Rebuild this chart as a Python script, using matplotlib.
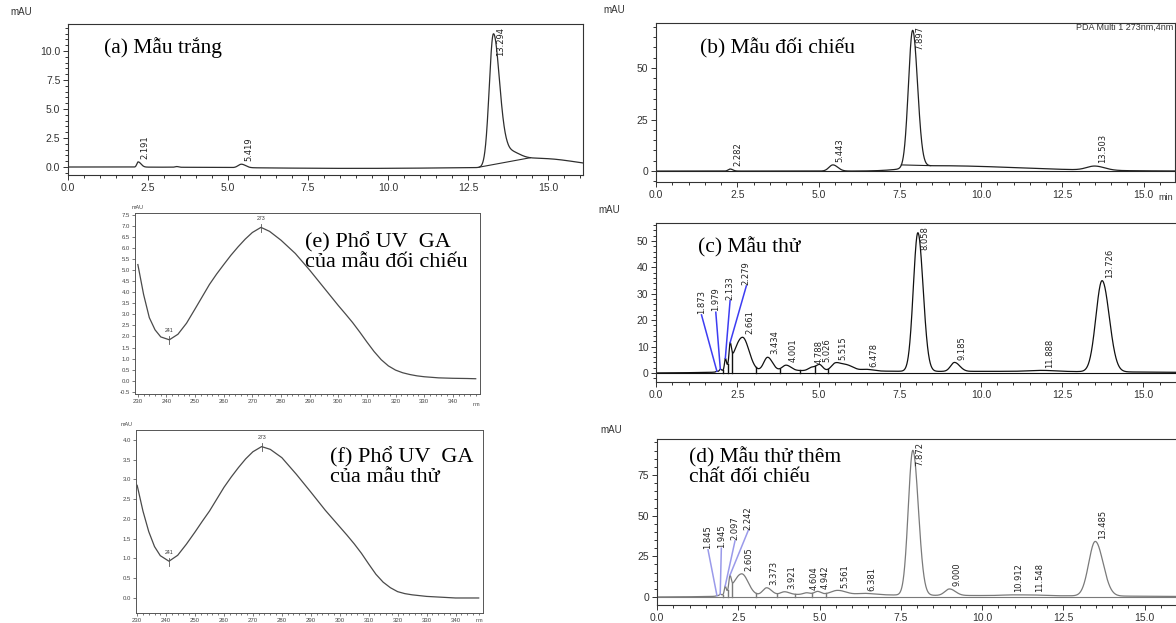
import numpy as np
import matplotlib.pyplot as plt
from matplotlib import font_manager
from matplotlib.ticker import MultipleLocator, FormatStrFormatter

W, H = 1176, 623

# ---------------- data ----------------
# chromatogram peaks: retention time (min), height (mAU), left / right width (min)
a_rt = [2.191, 5.419, 13.294]
a_h = [0.45, 0.30, 11.4]
a_wl = [0.04, 0.10, 0.13]
a_wr = [0.09, 0.13, 0.19]
# unlabelled humps / drift
a_bg_rt = [3.40, 13.75, 14.75, 9.0]
a_bg_h = [0.06, 1.2, 0.75, -0.12]
a_bg_wl = [0.05, 0.20, 0.60, 3.0]
a_bg_wr = [0.05, 0.35, 1.10, 3.0]

b_rt = [2.282, 5.443, 7.897, 13.503]
b_h = [1.0, 3.0, 66.5, 2.0]
b_wl = [0.06, 0.12, 0.13, 0.25]
b_wr = [0.08, 0.15, 0.15, 0.30]
b_bg_rt = [8.6]
b_bg_h = [2.6]
b_bg_wl = [0.8]
b_bg_wr = [2.6]

c_rt = [1.873, 1.979, 2.133, 2.279, 2.661, 3.434, 4.001, 4.788, 5.026,
        5.515, 6.478, 8.058, 9.185, 11.888, 13.726]
c_h = [0.3, 0.8, 3.8, 7.0, 13.0, 5.2, 2.1, 1.2, 2.3, 2.6, 0.6, 52.5, 3.4, 0.4, 34.5]
c_wl = [0.03, 0.03, 0.025, 0.03, 0.25, 0.12, 0.12, 0.10, 0.10, 0.12, 0.15, 0.14, 0.12, 0.40, 0.19]
c_wr = [0.03, 0.03, 0.03, 0.04, 0.20, 0.15, 0.15, 0.10, 0.10, 0.15, 0.20, 0.16, 0.16, 0.40, 0.22]
c_bg_rt = [5.85, 4.5, 11.0]
c_bg_h = [2.2, 0.9, 0.6]
c_bg_wl = [0.18, 1.8, 2.5]
c_bg_wr = [0.22, 2.5, 4.0]
c_drops = [2.05, 2.20, 2.35, 3.08, 3.80, 4.42, 4.90, 5.30]

d_rt = [1.845, 1.945, 2.097, 2.242, 2.605, 3.373, 3.921, 4.604, 4.942,
        5.561, 6.381, 7.872, 9.000, 10.912, 11.548, 13.485]
d_h = [0.3, 0.9, 4.5, 8.0, 13.5, 4.5, 1.8, 1.0, 1.8, 2.5, 0.8, 89.0, 4.0, 0.4, 0.4, 33.5]
d_wl = [0.03, 0.03, 0.025, 0.03, 0.25, 0.12, 0.12, 0.10, 0.10, 0.20, 0.20, 0.14, 0.14, 0.30, 0.30, 0.20]
d_wr = [0.03, 0.03, 0.03, 0.04, 0.20, 0.15, 0.15, 0.10, 0.10, 0.25, 0.30, 0.17, 0.18, 0.30, 0.30, 0.24]
d_bg_rt = [4.8, 11.0]
d_bg_h = [1.6, 0.8]
d_bg_wl = [1.8, 2.5]
d_bg_wr = [2.5, 4.0]
d_drops = [2.02, 2.17, 2.32, 3.05, 3.70, 4.25, 4.78, 5.20]

# UV spectra (nm, mAU)
uv_nm = [230, 232, 234, 236, 238, 241, 244, 247, 250, 252.5, 255, 257.5, 260, 262.5, 265,
         267.5, 270, 273, 276, 280, 285, 290, 295, 300, 302.5, 305, 307.5, 310, 312.5,
         315, 317.5, 320, 322.5, 325, 327.5, 330, 335, 340, 345, 348]
e_abs = [5.25, 3.9, 2.85, 2.3, 1.98, 1.85, 2.1, 2.6, 3.25, 3.8, 4.35, 4.82, 5.25, 5.67, 6.05,
         6.4, 6.7, 6.93, 6.75, 6.35, 5.75, 5.0, 4.2, 3.4, 3.02, 2.63, 2.2, 1.75, 1.32,
         0.95, 0.67, 0.48, 0.36, 0.28, 0.22, 0.18, 0.13, 0.11, 0.10, 0.09]
f_abs = [2.85, 2.2, 1.68, 1.3, 1.07, 0.93, 1.08, 1.36, 1.67, 1.94, 2.2, 2.5, 2.8, 3.06, 3.3,
         3.52, 3.7, 3.83, 3.76, 3.55, 3.13, 2.68, 2.22, 1.8, 1.59, 1.37, 1.13, 0.86, 0.6,
         0.4, 0.26, 0.16, 0.11, 0.08, 0.06, 0.04, 0.02, 0.0, 0.0, 0.0]
uv_marks = [241, 273]

# ---------------- fonts ----------------
have = {f.name for f in font_manager.fontManager.ttflist}
if 'Liberation Sans Narrow' in have:
    lab_font, lab_size = 'Liberation Sans Narrow', 7.5
else:
    lab_font, lab_size = 'DejaVu Sans', 6
plt.rcParams['font.family'] = ['Liberation Sans', 'DejaVu Sans']
serif = ['Liberation Serif', 'DejaVu Serif']

fig = plt.figure(figsize=(W / 100, H / 100), dpi=100)


def box(x0, x1, y0, y1):
    return fig.add_axes([x0 / W, 1 - y1 / H, (x1 - x0) / W, (y1 - y0) / H])


def ftext(x, y, s, **kw):
    fig.text(x / W, 1 - y / H, s, **kw)


def trace(t, rt, h, wl, wr):
    y = np.zeros_like(t)
    for c, hh, sl, sr in zip(rt, h, wl, wr):
        s = np.where(t < c, sl, sr)
        y += hh * np.exp(-0.5 * ((t - c) / s) ** 2)
    return y


t = np.linspace(0, 16.5, 4000)
peak_labels = []


def chromatogram(ax, peaks, bg, xmax, ylim, ymaj, ymin_, yfmt, color,
                 callouts=None, call_color='b', drops=(), intbase=(), zero_line=False):
    rt, h, wl, wr = peaks
    y = trace(t, rt, h, wl, wr) + trace(t, *bg)
    ax.plot(t, y, color=color, lw=0.9)
    if zero_line:
        ax.axhline(0, color=color, lw=0.8)
    for t0, t1 in intbase:
        ax.plot([t0, t1], np.interp([t0, t1], t, y), color=color, lw=0.8)
    for td in drops:
        ax.plot([td, td], [0, np.interp(td, t, y)], color=color, lw=1.0)
    callouts = callouts or {}
    for r in rt:
        yy = np.interp(r, t, y)
        if r in callouts:
            lx, ly = callouts[r]
            ax.plot([lx, r], [ly, yy], color=call_color, lw=1.1)
            ax.text(lx, ly + 0.3, f'{r:.3f}', rotation=90, ha='center', va='bottom',
                    family=[lab_font, 'DejaVu Sans'], fontsize=lab_size, color='#222')
        else:
            ann = ax.annotate(f'{r:.3f}', (r, yy), xytext=(2, 2), textcoords='offset points',
                              rotation=90, ha='left', va='bottom',
                              family=[lab_font, 'DejaVu Sans'], fontsize=lab_size, color='#222')
            peak_labels.append((ax, ann))
    ax.set_xlim(0, xmax)
    ax.set_ylim(*ylim)
    ax.xaxis.set_major_locator(MultipleLocator(2.5))
    ax.xaxis.set_minor_locator(MultipleLocator(0.5))
    ax.xaxis.set_major_formatter(FormatStrFormatter('%.1f'))
    ax.yaxis.set_major_locator(MultipleLocator(ymaj))
    ax.yaxis.set_minor_locator(MultipleLocator(ymin_))
    ax.yaxis.set_major_formatter(FormatStrFormatter(yfmt))
    ax.tick_params(which='both', direction='out', top=False, right=False,
                   labelsize=7.5, colors='#333', width=0.7, pad=2)
    ax.tick_params(which='major', length=3.5)
    ax.tick_params(which='minor', length=2)
    for s in ax.spines.values():
        s.set_color('#333')
        s.set_linewidth(0.8)


def spectrum(ax, nm, ab, xlim, ylim, mark_dy):
    ax.plot(nm, ab, color='#4a4a4a', lw=0.9)
    for m in uv_marks:
        v = np.interp(m, nm, ab)
        ax.plot([m, m], [v - mark_dy, v + mark_dy * 0.8], color='#555', lw=0.6)
        ax.text(m, v + mark_dy * 1.5, str(m), ha='center', va='bottom', fontsize=3.8, color='#333')
    ax.set_xlim(*xlim)
    ax.set_ylim(*ylim)
    ax.xaxis.set_major_locator(MultipleLocator(10))
    ax.xaxis.set_minor_locator(MultipleLocator(2))
    ax.yaxis.set_major_locator(MultipleLocator(0.5))
    ax.yaxis.set_major_formatter(FormatStrFormatter('%.1f'))
    ax.tick_params(which='both', direction='out', top=False, right=False,
                   labelsize=4.3, colors='#444', width=0.5, pad=1.5)
    ax.tick_params(which='major', length=2.2)
    ax.tick_params(which='minor', length=1.2)
    for s in ax.spines.values():
        s.set_color('#555')
        s.set_linewidth(0.7)


# (a) blank
ax_a = box(68, 583, 24, 175)
chromatogram(ax_a, (a_rt, a_h, a_wl, a_wr), (a_bg_rt, a_bg_h, a_bg_wl, a_bg_wr),
             (583 - 68) / 32.0, (-0.69, 12.33), 2.5, 0.5, '%.1f', '#2e2e2e',
             intbase=[(12.85, 14.45)])
ftext(104, 48, '(a) Mẫu trắng', family=serif, fontsize=15.5, va='center')
ftext(10, 12, 'mAU', fontsize=7, color='#333', va='center')

# (b) reference standard
ax_b = box(656, 1175, 23, 182)
chromatogram(ax_b, (b_rt, b_h, b_wl, b_wr), (b_bg_rt, b_bg_h, b_bg_wl, b_bg_wr),
             (1175 - 656) / 32.5, (-5.3, 71.8), 25, 5, '%d', '#222',
             intbase=[(7.55, 8.45)], zero_line=True)
ftext(700, 48, '(b) Mẫu đối chiếu', family=serif, fontsize=15.5, va='center')
ftext(603, 10, 'mAU', fontsize=7, color='#333', va='center')
ftext(1173, 27, 'PDA Multi 1 273nm,4nm', fontsize=6.5, color='#333', ha='right', va='center')
ftext(1158, 197, 'min', fontsize=6.5, color='#333', va='center')

# (c) test sample
ax_c = box(656, 1180, 223, 382)
chromatogram(ax_c, (c_rt, c_h, c_wl, c_wr), (c_bg_rt, c_bg_h, c_bg_wl, c_bg_wr),
             (1180 - 656) / 32.5, (-3.4, 56.8), 10, 2, '%d', '#111',
             callouts={1.873: (1.40, 22), 1.979: (1.84, 23), 2.133: (2.28, 27.5),
                       2.279: (2.78, 33)},
             call_color='#3d3df2', drops=c_drops, zero_line=True)
ftext(698, 247, '(c) Mẫu thử', family=serif, fontsize=15.5, va='center')
ftext(598, 210, 'mAU', fontsize=7, color='#333', va='center')

# (d) spiked test sample
ax_d = box(657, 1180, 439, 605)
chromatogram(ax_d, (d_rt, d_h, d_wl, d_wr), (d_bg_rt, d_bg_h, d_bg_wl, d_bg_wr),
             (1180 - 657) / 32.5, (-4.9, 97.1), 25, 5, '%d', '#7a7a7a',
             callouts={1.845: (1.57, 29), 1.945: (1.98, 30), 2.097: (2.40, 34.5),
                       2.242: (2.81, 41)},
             call_color='#9a9aea', drops=d_drops, zero_line=True)
ftext(689, 467, '(d) Mẫu thử thêm\nchất đối chiếu', family=serif, fontsize=15.5,
      va='center', linespacing=1.0)
ftext(600, 430, 'mAU', fontsize=7, color='#333', va='center')

# (e) UV spectrum, reference
ax_e = box(135, 480, 213, 394)
spectrum(ax_e, uv_nm, e_abs, (229, 349.5), (-0.6, 7.58), 0.2)
ftext(305, 252, '(e) Phổ UV  GA\ncủa mẫu đối chiếu', family=serif, fontsize=16,
      va='center', linespacing=1.0)
ftext(132, 207, 'mAU', fontsize=4, color='#444', va='center')
ftext(473, 405, 'nm', fontsize=4, color='#444', va='center')

# (f) UV spectrum, test sample
ax_f = box(136, 483, 430, 613)
spectrum(ax_f, uv_nm, f_abs, (229.6, 349.5), (-0.38, 4.25), 0.11)
ftext(330, 467, '(f) Phổ UV  GA\ncủa mẫu thử', family=serif, fontsize=16,
      va='center', linespacing=1.0)
ftext(121, 425, 'mAU', fontsize=4, color='#444', va='center')
ftext(476, 620, 'nm', fontsize=4, color='#444', va='center')

# keep peak labels inside the plot area
fig.canvas.draw()
r = fig.canvas.get_renderer()
for ax, ann in peak_labels:
    bb = ann.get_window_extent(r)
    top = ax.get_window_extent(r).y1 - 3
    if bb.y1 > top:
        dx, dy = ann.xyann
        ann.xyann = (dx, dy - (bb.y1 - top) * 72 / fig.dpi)

fig.savefig('out.png', dpi=100)
